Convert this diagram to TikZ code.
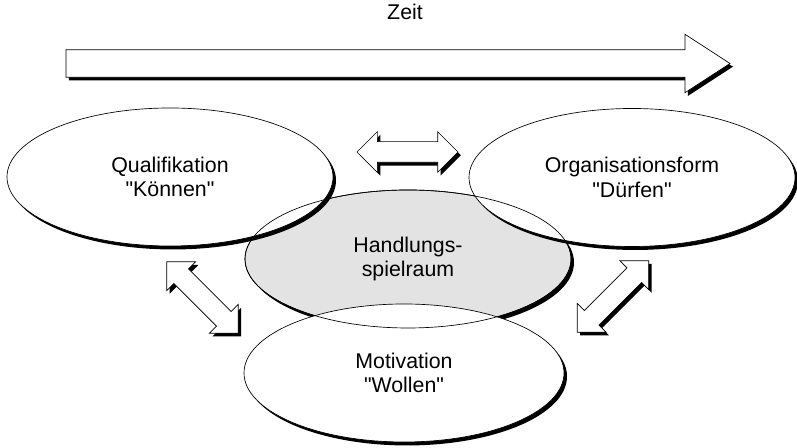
\documentclass[tikz,border=0pt]{standalone}
\usepackage{fontspec}
\setmainfont{Liberation Sans}[Ligatures=TeXOff]
\usepackage{tikz}
\usetikzlibrary{shapes.geometric,shapes.arrows,shadows}

\tikzset{
  blobshape/.style={ellipse,inner sep=0pt,line width=0.5pt,
    minimum width=244.5pt,minimum height=103.5pt},
  blob/.style={blobshape,draw,fill=white,align=center,
    font=\fontsize{16}{18.5}\selectfont,
    general shadow={fill=black,shadow xshift=2.25pt,shadow yshift=-2.6pt}},
  pfeilschatten/.style={general shadow={fill=black,shadow xshift=2.2pt,shadow yshift=-2.4pt}},
  doppelpfeil/.style={double arrow,draw,fill=white,line width=0.5pt,pfeilschatten,
    minimum height=75.75pt,inner xsep=0pt,inner ysep=7.5pt,
    double arrow head extend=7.5pt,double arrow tip angle=90}
}

\begin{document}
\begin{tikzpicture}[x=0.75pt,y=0.75pt]
       \useasboundingbox(0,0)rectangle(797,448);
       % Zeitachse
       \node[font=\fontsize{16}{18.5}\selectfont](zeit)at(405,436){Zeit};
       \node[single arrow,draw,fill=white,line width=0.5pt,pfeilschatten,
             minimum height=498pt,inner xsep=0pt,inner ysep=10.1pt,outer sep=0pt,
             single arrow head extend=11.6pt,single arrow tip angle=66,anchor=tail]
             (zeitpfeil)at(66,384.5){};
       % Ellipsen
       \node[blob,fill=black!11](handl)at(408,189){Handlungs-\\spielraum};
       \node[blob](qual)at(170,271){Qualifikation\\"Können"};
       \node[blob](org)at(632,270.5){Organisationsform\\"Dürfen"};
       \node[blob,minimum width=240pt](motiv)at(404,75){Motivation\\"Wollen"};
       \node[blobshape,draw](handlrand)at(handl){};
       % Doppelpfeile
       \node[doppelpfeil](pfeiloben)at(407.5,296){};
       \node[doppelpfeil,rotate=-45](pfeillinks)at(202.5,150.5){};
       \node[doppelpfeil,rotate=45](pfeilrechts)at(613,151.5){};
      \end{tikzpicture}
\end{document}
